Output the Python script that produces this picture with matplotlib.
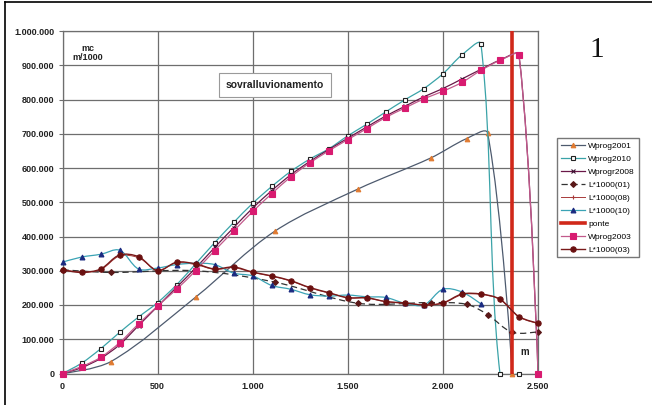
import numpy as np
import matplotlib.pyplot as plt
from matplotlib.path import Path
from matplotlib.patches import PathPatch
from matplotlib.lines import Line2D
from matplotlib.ticker import FuncFormatter, MultipleLocator

plt.rcParams['font.family'] = ['Liberation Sans', 'DejaVu Sans']

# volumi in migliaia di mc, progressive in m
x_2001 = [0, 255, 700, 1115, 1555, 1935, 2125, 2235, 2365]
wprog2001 = [0, 35, 223, 415, 539, 629, 686, 702, 0]

x_2010 = list(range(0, 2500, 100))
wprog2010 = [0, 30, 72, 120, 165, 207, 259, 320, 382, 441, 497, 546, 590,
             626, 656, 694, 728, 764, 799, 832, 875, 930, 962, 0, 0]

x_full = list(range(0, 2600, 100))
wprogr2008 = [0, 17, 44, 84, 140, 196, 252, 308, 368, 426, 483, 534, 580,
              619, 654, 687, 720, 752, 780, 808, 832, 860, 888, 915, 930, 0]
wprog2003 = [0, 20, 47, 90, 145, 197, 246, 300, 359, 416, 473, 525, 574,
             615, 650, 683, 715, 748, 775, 802, 824, 850, 885, 914, 929, 0]

x_01 = [0, 255, 700, 1115, 1555, 1935, 2125, 2235, 2365, 2500]
l1000_01 = [303, 295, 300, 267, 205, 207, 202, 172, 120, 122]

l1000_08 = [303, 296, 303, 343, 338, 302, 323, 318, 304, 309, 295, 284, 270,
            250, 235, 222, 220, 210, 205, 201, 205, 230, 231, 216, 165, 146]
l1000_03 = [303, 295, 305, 346, 341, 300, 325, 320, 305, 311, 296, 285, 271,
            251, 236, 221, 221, 210, 206, 200, 206, 232, 232, 217, 166, 147]

x_10 = list(range(0, 2300, 100))
l1000_10 = [325, 340, 348, 360, 305, 308, 318, 322, 318, 293, 285, 257, 246,
            230, 226, 229, 224, 222, 205, 200, 246, 238, 203]

ponte_x = [2365, 2365]
ponte_y = [0, 1000]


def smooth_line(ax, xs, ys, tension=0.33, **kw):
    # curva "smussata" tipo Excel, bezier calcolata in coordinate schermo
    pts = ax.transData.transform(np.column_stack([xs, ys]))
    n = len(pts)
    left = pts.copy()
    right = pts.copy()
    for i in range(1, n - 1):
        d01 = np.hypot(*(pts[i] - pts[i - 1]))
        d12 = np.hypot(*(pts[i + 1] - pts[i]))
        if d01 + d12 == 0:
            continue
        t = pts[i + 1] - pts[i - 1]
        left[i] = pts[i] - tension * d01 / (d01 + d12) * t
        right[i] = pts[i] + tension * d12 / (d01 + d12) * t
    verts = [pts[0]]
    codes = [Path.MOVETO]
    for i in range(n - 1):
        verts += [right[i], left[i + 1], pts[i + 1]]
        codes += [Path.CURVE4] * 3
    verts = ax.transData.inverted().transform(np.array(verts))
    ax.add_patch(PathPatch(Path(verts, codes), fill=False, **kw))


fig = plt.figure(figsize=(6.52, 4.05), dpi=100)
ax = fig.add_axes([62.5 / 652, 1 - 373.5 / 405, (538 - 62.5) / 652, (373.5 - 31) / 405])
ax.set_xlim(0, 2500)
ax.set_ylim(0, 1000)
ax.xaxis.set_major_locator(MultipleLocator(500))
ax.yaxis.set_major_locator(MultipleLocator(100))
ax.grid(True, color='#6e6e6e', linewidth=0.9)
ax.set_axisbelow(True)
for s in ax.spines.values():
    s.set_color('#6e6e6e')
    s.set_linewidth(0.9)

fmt_y = FuncFormatter(lambda v, p: f"{int(round(v * 1000)):,}".replace(",", "."))
fmt_x = FuncFormatter(lambda v, p: f"{int(round(v)):,}".replace(",", "."))
ax.yaxis.set_major_formatter(fmt_y)
ax.xaxis.set_major_formatter(fmt_x)
ax.tick_params(axis='both', labelsize=6.5, length=3, color='#6e6e6e', pad=3)
ax.tick_params(axis='x', length=0, pad=6)
for lab in ax.get_xticklabels() + ax.get_yticklabels():
    lab.set_fontweight('bold')
    lab.set_color('#222222')

series = [
    # label, x, y, line colour, marker, marker face, marker edge, size, linestyle, lw
    ('Wprog2001', x_2001, wprog2001, '#4d5a6e', '^', '#e07a30', '#e07a30', 3.3, '-', 0.9),
    ('Wprog2010', x_2010, wprog2010, '#3aa3a8', 's', 'white', '#222222', 2.6, '-', 0.9),
    ('Wprogr2008', x_full, wprogr2008, '#6a1848', 'x', '#3a1030', '#3a1030', 3.3, '-', 0.9),
    ('L*1000(01)', x_01, l1000_01, '#333333', 'D', '#5a1818', '#5a1818', 3.0, (0, (5, 3)), 0.9),
    ('L*1000(08)', x_full, l1000_08, '#a83a3a', '+', '#a83a3a', '#a83a3a', 3.3, '-', 0.7),
    ('L*1000(10)', x_10, l1000_10, '#3aa3b5', '^', '#1a2a80', '#1a2a80', 3.5, '-', 0.9),
    ('ponte', None, None, '#d0281a', None, None, None, 0, '-', 2.6),
    ('Wprog2003', x_full, wprog2003, '#c25a8c', 's', '#d81b70', '#d81b70', 3.8, '-', 0.9),
    ('L*1000(03)', x_full, l1000_03, '#7a1a1a', 'o', '#6a1010', '#6a1010', 3.8, '-', 1.0),
]

handles = []
for k, (label, xs, ys, col, mk, mfc, mec, ms, ls, lw) in enumerate(series):
    if label == 'ponte':
        ax.plot(ponte_x, ponte_y, color=col, linewidth=lw, zorder=3 + k * 0.1)
        handles.append(Line2D([], [], color=col, linewidth=lw))
        continue
    smooth_line(ax, xs, ys, edgecolor=col, linewidth=lw, linestyle=ls, zorder=3 + k * 0.1)
    ax.plot(xs, ys, linestyle='none', marker=mk, markerfacecolor=mfc, markeredgecolor=mec,
            markersize=ms, markeredgewidth=0.8, clip_on=False, zorder=3.05 + k * 0.1)
    handles.append(Line2D([], [], color=col, linewidth=lw, linestyle=ls, marker=mk,
                          markerfacecolor=mfc, markeredgecolor=mec, markersize=ms,
                          markeredgewidth=0.8))

fig.legend(handles, [s[0] for s in series], loc='upper left',
           bbox_to_anchor=(557 / 652, 1 - 138 / 405), fontsize=6, frameon=True,
           fancybox=False, edgecolor='#555555', handlelength=2.9, handletextpad=0.4,
           labelspacing=0.62, borderpad=0.45, borderaxespad=0)

fig.text(88 / 652, 1 - 53 / 405, 'mc\nm/1000', fontsize=6.5, fontweight='bold',
         ha='center', va='center', linespacing=1.0, color='#222222')
fig.text(275 / 652, 1 - 85 / 405, 'sovralluvionamento', fontsize=7.5, fontweight='bold',
         ha='center', va='center', color='#222222',
         bbox=dict(boxstyle='square,pad=0.7', facecolor='white', edgecolor='#9a9a9a', linewidth=0.8))
fig.text(525 / 652, 1 - 352 / 405, 'm', fontsize=7, fontweight='bold', ha='center',
         va='center', color='#222222')
fig.text(597 / 652, 1 - 50 / 405, '1', fontsize=21, family='Liberation Serif',
         ha='center', va='center', color='#111111')

# cornice della scansione
fig.add_artist(Line2D([5 / 652, 5 / 652], [0, 1 - 2 / 405], color='black', linewidth=1.2))
fig.add_artist(Line2D([5 / 652, 1], [1 - 2 / 405, 1 - 2 / 405], color='black', linewidth=1.2))

fig.savefig('out.png', dpi=100)
